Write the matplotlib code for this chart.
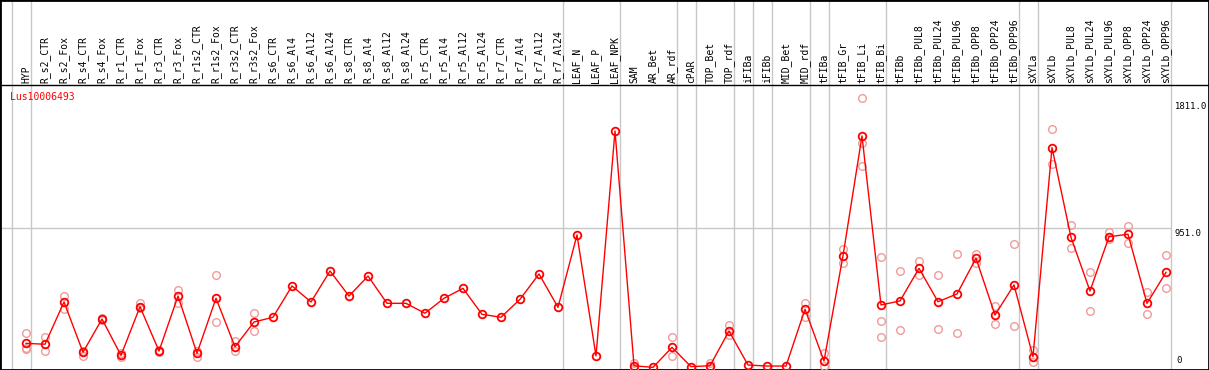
import numpy as np
import matplotlib
matplotlib.use("Agg")
import matplotlib.pyplot as plt

gene = "Lus10006493"

samples = ["HYP", "R_s2_CTR", "R_s2_Fox", "R_s4_CTR", "R_s4_Fox", "R_r1_CTR", "R_r1_Fox",
           "R_r3_CTR", "R_r3_Fox", "R_r1s2_CTR", "R_r1s2_Fox", "R_r3s2_CTR", "R_r3s2_Fox",
           "R_s6_CTR", "R_s6_Al4", "R_s6_Al12", "R_s6_Al24", "R_s8_CTR", "R_s8_Al4",
           "R_s8_Al12", "R_s8_Al24", "R_r5_CTR", "R_r5_Al4", "R_r5_Al12", "R_r5_Al24",
           "R_r7_CTR", "R_r7_Al4", "R_r7_Al12", "R_r7_Al24", "LEAF_N", "LEAF_P", "LEAF_NPK",
           "SAM", "AR_Bet", "AR_rdf", "cPAR", "TOP_Bet", "TOP_rdf", "iFIBa", "iFIBb",
           "MID_Bet", "MID_rdf", "tFIBa", "tFIB_Gr", "tFIB_Li", "tFIB_Bi", "tFIBb",
           "tFIBb_PUL8", "tFIBb_PUL24", "tFIBb_PUL96", "tFIBb_OPP8", "tFIBb_OPP24",
           "tFIBb_OPP96", "sXYLa", "sXYLb", "sXYLb_PUL8", "sXYLb_PUL24", "sXYLb_PUL96",
           "sXYLb_OPP8", "sXYLb_OPP24", "sXYLb_OPP96"]

# mean expression per sample
means = [173, 167, 452, 113, 337, 92, 420, 121, 492, 106, 477, 150, 317,
         349, 560, 452, 661, 492, 627, 443, 443, 376, 477, 544, 369,
         349, 470, 641, 416, 904, 88, 1605,
         22, 11, 146, 16, 22, 256, 27, 20, 20, 403, 54,
         764, 1572, 432, 459, 679, 454, 506, 747, 364, 567,
         83, 1493, 888, 526, 892, 909, 443, 652]

# individual replicates (only where they stand apart from the mean)
replicates = [[243, 144, 135], [214, 121], [492, 403], [121, 90], [342, 332],
              [83, 106], [443, 409], [125, 117], [533, 447], [121, 83], [632, 317],
              [191, 123], [378, 254],
              [], [], [], [], [], [], [], [], [], [], [], [], [], [], [], [],
              [], [], [],
              [38, 8], [], [218, 88], [], [38, 8], [297, 229], [], [], [],
              [447, 353], [106, 22],
              [809, 717], [1826, 1526, 1369], [757, 324, 218], [661, 263],
              [730, 634], [634, 268], [774, 241], [776, 713], [425, 304], [843, 290],
              [128, 49], [1617, 1381], [971, 814], [652, 391], [922, 877], [965, 852],
              [521, 369], [769, 544]]

# group separators drawn after these sample indices
separators = [-1, 0, 28, 31, 34, 35, 37, 38, 39, 41, 42, 45, 52, 53, 60]

y_ticks = [1811.0, 951.0, 0]

fig = plt.figure(figsize=(12.09, 3.70), dpi=100)
ax = fig.add_axes([0, 0, 1, 1])
ax.set_xlim(-26 / 19, (1209 - 26) / 19)
ax.set_ylim(-6.74, 2488.8)
ax.set_xticks([])
ax.set_yticks([])
for s in ax.spines.values():
    s.set_color("black")
    s.set_linewidth(2)

x = np.arange(len(samples))
last = separators[-1] + 0.24

for sep in separators:
    ax.axvline(sep + 0.24, color="#c8c8c8", lw=1, zorder=1)
ax.hlines(951, ax.get_xlim()[0], last, color="#c8c8c8", lw=1, zorder=1)

# header line under the sample names
ax.plot([0, 1], [0.769, 0.769], transform=ax.transAxes, color="black", lw=1, zorder=2)

font = dict(family="DejaVu Sans Mono", fontsize=7)
for i, name in enumerate(samples):
    ax.text(i, 0.776, name, rotation=90, ha="center", va="bottom",
            transform=ax.get_xaxis_transform(), **font)

for i, reps in enumerate(replicates):
    if reps:
        ax.plot([i] * len(reps), reps, "o", ms=5.5, mfc="none", mec="#f09a9a",
                mew=1.0, zorder=3)

ax.plot(x, means, "-", color="red", lw=1, zorder=4)
ax.plot(x, means, "o", ms=5.5, mfc="none", mec="red", mew=1.3, zorder=5)

ax.text(0.0083, 0.738, gene, color="red", ha="left", va="center",
        transform=ax.transAxes, **font)

tick_font = dict(family="DejaVu Sans Mono", fontsize=6.4)
for v in y_ticks:
    if v == 0:
        ax.text(last + 0.3, v + 25, "0", ha="left", va="bottom", **tick_font)
    else:
        ax.text(last + 0.22, v - 8, f"{v:.1f}", ha="left", va="top", **tick_font)

fig.savefig("out.png", dpi=100)
